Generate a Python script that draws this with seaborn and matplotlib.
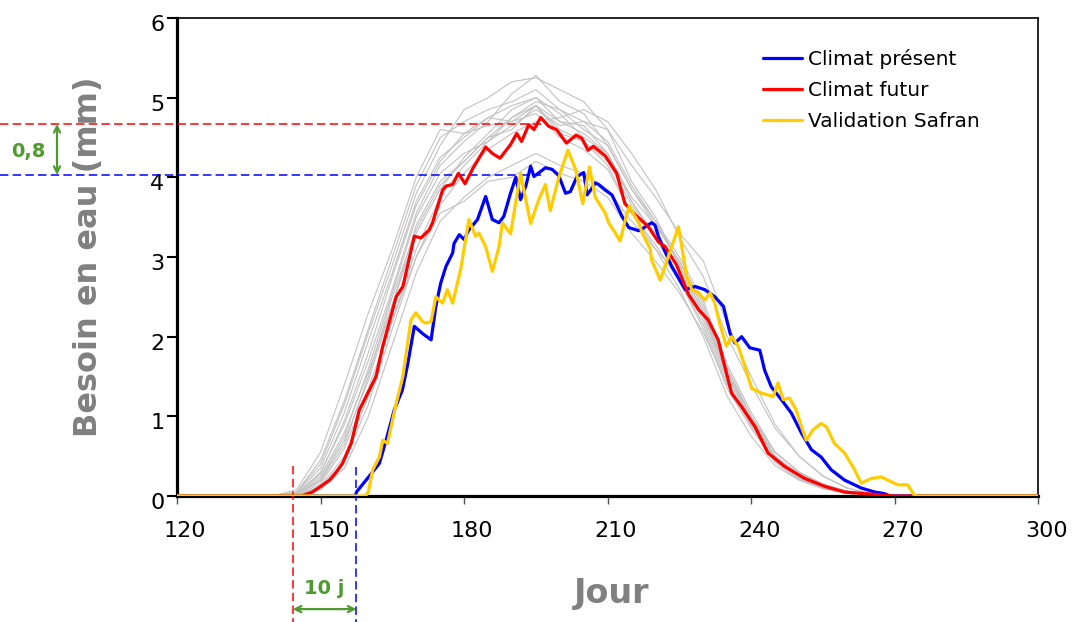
import numpy as np
import pandas as pd
import matplotlib
matplotlib.use("Agg")
import matplotlib.pyplot as plt
import matplotlib.transforms as mtransforms
import seaborn as sns

# ---------------- data ----------------
series_names = ["Climat présent", "Climat futur", "Validation Safran"]

present_day = [120, 157.3, 157.5, 160.2, 162.3, 163.7, 165.4, 167.1, 168.2, 169.6, 171.3, 173.1, 174.1,
               175.1, 176.2, 177.6, 177.9, 179.0, 180.0, 181.0, 182.8, 184.5, 185.9, 187.3, 188.3, 189.7,
               190.8, 191.8, 192.9, 193.9, 194.6, 197.0, 198.4, 199.8, 201.2, 202.2, 203.6, 205.0, 205.7,
               206.7, 207.4, 208.1, 209.5, 210.9, 213.0, 214.4, 216.5, 217.1, 219.2, 219.9, 220.6, 223.4,
               226.2, 228.3, 230.3, 232.4, 234.2, 235.6, 236.6, 238.0, 239.7, 241.8, 242.8, 244.2, 246.3,
               248.4, 250.5, 252.6, 254.6, 256.7, 259.5, 263.0, 265.8, 267.8, 269.0, 300]
present_val = [0, 0, 0.05, 0.25, 0.41, 0.70, 1.08, 1.33, 1.65, 2.13, 2.04, 1.96, 2.38,
               2.67, 2.88, 3.05, 3.17, 3.28, 3.22, 3.34, 3.47, 3.76, 3.47, 3.43, 3.51, 3.80,
               4.00, 3.72, 3.89, 4.14, 4.01, 4.12, 4.10, 4.02, 3.80, 3.82, 4.01, 4.06, 3.78,
               3.86, 3.93, 3.91, 3.84, 3.78, 3.51, 3.37, 3.33, 3.35, 3.43, 3.40, 3.26, 2.88,
               2.59, 2.63, 2.59, 2.50, 2.38, 2.04, 1.92, 2.00, 1.86, 1.83, 1.58, 1.37, 1.21,
               1.04, 0.79, 0.58, 0.49, 0.33, 0.20, 0.10, 0.05, 0.03, 0, 0]

futur_day = [120, 146.0, 148.3, 150.0, 151.9, 153.3, 154.6, 156.4, 158.1, 160.2, 161.6, 163.0, 165.8,
             167.2, 169.6, 171.0, 172.7, 173.4, 175.5, 176.2, 177.6, 178.8, 180.2, 181.9, 184.5, 185.9,
             187.5, 189.7, 191.0, 192.0, 193.5, 194.6, 196.0, 197.7, 199.3, 201.4, 203.4, 204.6, 205.9,
             207.0, 209.5, 211.9, 213.6, 215.8, 218.5, 220.6, 222.0, 224.4, 226.9, 229.0, 231.0, 233.1,
             234.5, 235.9, 238.0, 240.8, 243.5, 247.0, 251.2, 255.4, 259.5, 263.7, 268.0, 270.0, 300]
futur_val = [0, 0, 0.05, 0.12, 0.20, 0.30, 0.41, 0.66, 1.08, 1.33, 1.50, 1.88, 2.50,
             2.63, 3.26, 3.24, 3.34, 3.43, 3.84, 3.89, 3.91, 4.05, 3.92, 4.12, 4.38, 4.30,
             4.24, 4.41, 4.55, 4.45, 4.66, 4.60, 4.75, 4.64, 4.60, 4.43, 4.53, 4.49, 4.34,
             4.39, 4.27, 4.05, 3.67, 3.53, 3.38, 3.19, 3.13, 2.90, 2.53, 2.34, 2.21, 1.96,
             1.62, 1.29, 1.12, 0.87, 0.54, 0.37, 0.22, 0.12, 0.05, 0.03, 0.01, 0, 0]

safran_day = [120, 159.4, 160.0, 160.9, 162.3, 163.0, 164.0, 165.8, 167.2, 167.8, 168.9, 169.9, 171.3,
              172.0, 173.1, 174.1, 175.5, 176.5, 177.6, 179.3, 181.0, 182.4, 183.1, 184.5, 185.9, 187.3,
              188.0, 189.7, 191.8, 193.9, 195.6, 197.0, 198.0, 199.8, 201.7, 203.3, 204.8, 206.2, 207.4,
              209.5, 210.2, 211.4, 212.6, 213.7, 214.5, 216.5, 217.1, 218.9, 219.2, 221.0, 222.7, 224.8,
              226.5, 227.6, 229.0, 230.3, 231.4, 232.4, 233.4, 234.8, 235.9, 237.3, 238.7, 240.1, 242.2,
              244.6, 245.6, 246.7, 248.0, 249.4, 250.5, 251.5, 252.9, 254.6, 255.7, 257.4, 259.5, 261.6,
              263.0, 265.1, 267.2, 268.5, 270.6, 272.7, 274.1, 274.5, 300]
safran_val = [0, 0, 0.05, 0.33, 0.49, 0.70, 0.66, 1.16, 1.50, 1.75, 2.21, 2.30, 2.19,
              2.17, 2.19, 2.50, 2.42, 2.59, 2.42, 2.85, 3.47, 3.26, 3.30, 3.13, 2.82, 3.13,
              3.43, 3.29, 4.05, 3.42, 3.72, 3.91, 3.58, 4.00, 4.34, 4.10, 3.67, 4.13, 3.75,
              3.55, 3.43, 3.32, 3.20, 3.47, 3.64, 3.43, 3.32, 3.10, 2.96, 2.71, 3.01, 3.38,
              2.76, 2.59, 2.55, 2.46, 2.55, 2.42, 2.17, 1.88, 2.00, 1.88, 1.62, 1.35, 1.29,
              1.25, 1.42, 1.21, 1.23, 1.08, 0.87, 0.70, 0.83, 0.91, 0.87, 0.66, 0.54, 0.33,
              0.16, 0.22, 0.24, 0.20, 0.14, 0.14, 0.01, 0, 0]

# ensemble members (grey), read at these days
ensemble_day = [120, 140, 145, 150, 155, 160, 165, 170, 175, 180, 185, 190, 195, 200, 205,
                210, 215, 220, 225, 230, 235, 240, 245, 250, 255, 260, 265, 270, 300]
ensemble_members = [
    [0, 0, .05, .45, 1.2, 2.1, 3.0, 3.9, 4.5, 4.7, 4.85, 4.95, 5.1, 4.85, 4.7, 4.45, 3.9, 3.45, 2.9, 2.3, 1.55, .95, .5, .27, .13, .05, .01, 0, 0],
    [0, 0, .02, .3, .9, 1.7, 2.6, 3.55, 4.15, 4.45, 4.7, 5.05, 5.28, 4.95, 4.8, 4.4, 3.85, 3.4, 2.95, 2.4, 1.6, 1.0, .55, .3, .13, .05, .01, 0, 0],
    [0, 0, 0, .08, .35, 1.0, 1.9, 2.8, 3.45, 3.75, 4.0, 4.15, 4.3, 4.15, 4.05, 3.85, 3.45, 3.1, 2.75, 2.25, 1.6, 1.0, .55, .3, .15, .06, .02, 0, 0],
    [0, 0, .03, .25, .8, 1.55, 2.4, 3.4, 3.95, 4.2, 4.5, 4.6, 4.9, 4.7, 4.55, 4.3, 3.7, 3.25, 2.7, 2.1, 1.35, .85, .42, .2, .1, .04, .01, 0, 0],
    [0, 0, .08, .55, 1.4, 2.3, 3.1, 4.0, 4.6, 4.55, 4.75, 4.7, 4.9, 4.6, 4.45, 4.15, 3.55, 3.1, 2.6, 2.0, 1.25, .75, .38, .2, .09, .03, 0, 0, 0],
    [0, 0, 0, .1, .45, 1.15, 2.1, 3.0, 3.65, 4.05, 4.35, 4.55, 4.7, 4.75, 4.85, 4.7, 4.3, 3.85, 3.25, 2.75, 2.0, 1.4, .85, .5, .25, .1, .03, 0, 0],
    [0, 0, .02, .2, .7, 1.45, 2.4, 3.3, 3.85, 4.25, 4.55, 4.85, 5.0, 4.8, 4.5, 4.3, 3.75, 3.4, 2.95, 2.35, 1.55, 1.0, .5, .25, .12, .05, .01, 0, 0],
    [0, 0, .01, .15, .6, 1.35, 2.2, 3.0, 3.55, 3.7, 3.95, 4.0, 4.2, 4.05, 3.95, 3.75, 3.3, 2.95, 2.55, 2.05, 1.4, .9, .45, .22, .1, .04, 0, 0, 0],
    [0, 0, .04, .35, 1.05, 1.95, 2.8, 3.7, 4.25, 4.5, 4.75, 4.9, 5.0, 4.7, 4.65, 4.3, 3.7, 3.25, 2.75, 2.2, 1.45, .9, .45, .22, .1, .04, .01, 0, 0],
    [0, 0, .02, .22, .75, 1.6, 2.55, 3.5, 4.05, 4.3, 4.45, 4.75, 4.9, 4.55, 4.45, 4.2, 3.65, 3.3, 2.85, 2.25, 1.5, .95, .5, .27, .14, .06, .02, 0, 0],
    [0, 0, .05, .4, 1.15, 2.05, 2.9, 3.8, 4.4, 4.85, 5.0, 5.2, 5.25, 5.1, 4.95, 4.6, 3.95, 3.5, 2.9, 2.3, 1.5, .95, .48, .25, .12, .05, .01, 0, 0],
    [0, 0, .01, .12, .5, 1.25, 2.2, 3.1, 3.75, 4.15, 4.45, 4.65, 4.85, 4.65, 4.7, 4.6, 4.15, 3.75, 3.3, 2.95, 2.15, 1.5, .9, .5, .25, .1, .03, 0, 0],
    [0, 0, .03, .28, .95, 1.8, 2.75, 3.65, 4.2, 4.55, 4.65, 4.7, 4.8, 4.5, 4.35, 4.1, 3.55, 3.15, 2.7, 2.15, 1.4, .88, .44, .23, .11, .05, .01, 0, 0],
    [0, 0, .02, .18, .65, 1.5, 2.5, 3.35, 3.9, 4.2, 4.5, 4.75, 4.95, 4.85, 4.6, 4.4, 3.85, 3.45, 3.0, 2.45, 1.65, 1.05, .55, .3, .15, .06, .02, 0, 0],
]

# annotation values
peak_futur = 4.67
peak_present = 4.03
dash_end_day = 197.0
start_futur = 144.2
start_present = 157.5
diff_label = "0,8"
lag_label = "10 j"

x_ticks = [120, 150, 180, 210, 240, 270, 300]
y_ticks = [0, 1, 2, 3, 4, 5, 6]
x_label = "Jour"
y_label = "Besoin en eau (mm)"

# ---------------- style ----------------
sns.set_theme(style="white")
plt.rcParams['font.family'] = ['DejaVu Sans']

C_BLUE = "#0000FF"
C_RED = "#FF0000"
C_YELLOW = "#FFCC00"
C_GREY = "#C2C2C2"
C_GREEN = "#4E9A2E"
C_LABEL = "#808080"

fig = plt.figure(figsize=(10.72, 6.22), dpi=100)
ax = fig.add_axes([0.16511, 0.20257, 0.80345, 0.76849])

# grey ensemble
rows = []
for i, m in enumerate(ensemble_members):
    for d, v in zip(ensemble_day, m):
        rows.append((i, d, v))
gdf = pd.DataFrame(rows, columns=["member", "day", "val"])
sns.lineplot(data=gdf, x="day", y="val", units="member", estimator=None,
             color=C_GREY, lw=0.8, ax=ax, legend=False, zorder=2)

# main series
main = [
    (series_names[0], present_day, present_val, C_BLUE, 4),
    (series_names[1], futur_day, futur_val, C_RED, 5),
    (series_names[2], safran_day, safran_val, C_YELLOW, 6),
]
handles = []
for name, d, v, col, z in main:
    df = pd.DataFrame({"day": d, "val": v})
    sns.lineplot(data=df, x="day", y="val", estimator=None, sort=False,
                 color=col, lw=2.3, ax=ax, zorder=z, label=name)

ax.set_xlim(120, 300)
ax.set_ylim(0, 6)
ax.set_xticks(x_ticks)
ax.set_yticks(y_ticks)
ax.grid(False)

ax.tick_params(axis="x", which="both", direction="out", bottom=True, length=6, width=1,
               color="#505050", labelsize=16, pad=12, labelcolor="black")
ax.tick_params(axis="y", which="both", direction="out", left=True, length=7, width=1.5,
               color="black", labelsize=16, pad=2, labelcolor="black")

offx = mtransforms.ScaledTranslation(8 / 100, 0, fig.dpi_scale_trans)
for lab in ax.get_xticklabels():
    lab.set_transform(lab.get_transform() + offx)
offy = mtransforms.ScaledTranslation(0, -5 / 100, fig.dpi_scale_trans)
for lab in ax.get_yticklabels():
    lab.set_transform(lab.get_transform() + offy)

for s in ["left", "bottom"]:
    ax.spines[s].set_linewidth(2.3)
    ax.spines[s].set_color("black")
for s in ["top", "right"]:
    ax.spines[s].set_linewidth(1.2)
    ax.spines[s].set_color("black")

ax.set_ylabel(y_label, fontsize=23, fontweight="bold", color=C_LABEL)
ax.yaxis.set_label_coords(-0.1033, 0.5)
ax.yaxis.label.set_va("center")
ax.set_xlabel(x_label, fontsize=24, fontweight="bold", color=C_LABEL)
ax.xaxis.set_label_coords(0.505, -0.203)
ax.xaxis.label.set_va("center")

# legend
h, l = ax.get_legend_handles_labels()
leg = ax.legend(h, l, loc="upper left", bbox_to_anchor=(0.680, 0.935), frameon=False,
                fontsize=14.5, handlelength=1.95, handletextpad=0.3, labelspacing=0.6,
                borderpad=0, borderaxespad=0)
for t in leg.get_texts():
    t.set_color("black")

# annotation lines (dashed) -- positions derived from axes transforms
fig.canvas.draw()
inv = ax.transData.inverted()
x_fig_left = inv.transform((0, 0))[0]
y_fig_bottom = inv.transform((0, 0))[1]
dash = (0, (5.5, 2.8))
ax.plot([x_fig_left, dash_end_day], [peak_futur, peak_futur], color=C_RED, lw=1.1,
        linestyle=dash, clip_on=False, zorder=3)
ax.plot([x_fig_left, dash_end_day], [peak_present, peak_present], color=C_BLUE, lw=1.1,
        linestyle=dash, clip_on=False, zorder=3)
ax.plot([start_futur, start_futur], [0.38, y_fig_bottom], color=C_RED, lw=1.1,
        linestyle=dash, clip_on=False, zorder=3)
ax.plot([start_present, start_present], [0.36, y_fig_bottom], color=C_BLUE, lw=1.1,
        linestyle=dash, clip_on=False, zorder=3)

# green arrows and labels
arrow_props = dict(arrowstyle="<->", color=C_GREEN, lw=1.6, shrinkA=0, shrinkB=0,
                   mutation_scale=11)
ax.annotate("", xy=(-0.1393, peak_futur), xytext=(-0.1393, peak_present),
            xycoords=("axes fraction", "data"), textcoords=("axes fraction", "data"),
            arrowprops=arrow_props, annotation_clip=False)
ax.text(-0.173, (peak_futur + peak_present) / 2 - 0.03, diff_label, transform=
        mtransforms.blended_transform_factory(ax.transAxes, ax.transData),
        ha="center", va="center", color=C_GREEN, fontsize=14, fontweight="bold", clip_on=False)

y_arrow = -1.42
ax.annotate("", xy=(start_futur, y_arrow), xytext=(start_present, y_arrow),
            xycoords="data", arrowprops=arrow_props, annotation_clip=False)
ax.text((start_futur + start_present) / 2, -1.16, lag_label, ha="center", va="center",
        color=C_GREEN, fontsize=14, fontweight="bold", clip_on=False)

fig.savefig("out.png", dpi=100)
